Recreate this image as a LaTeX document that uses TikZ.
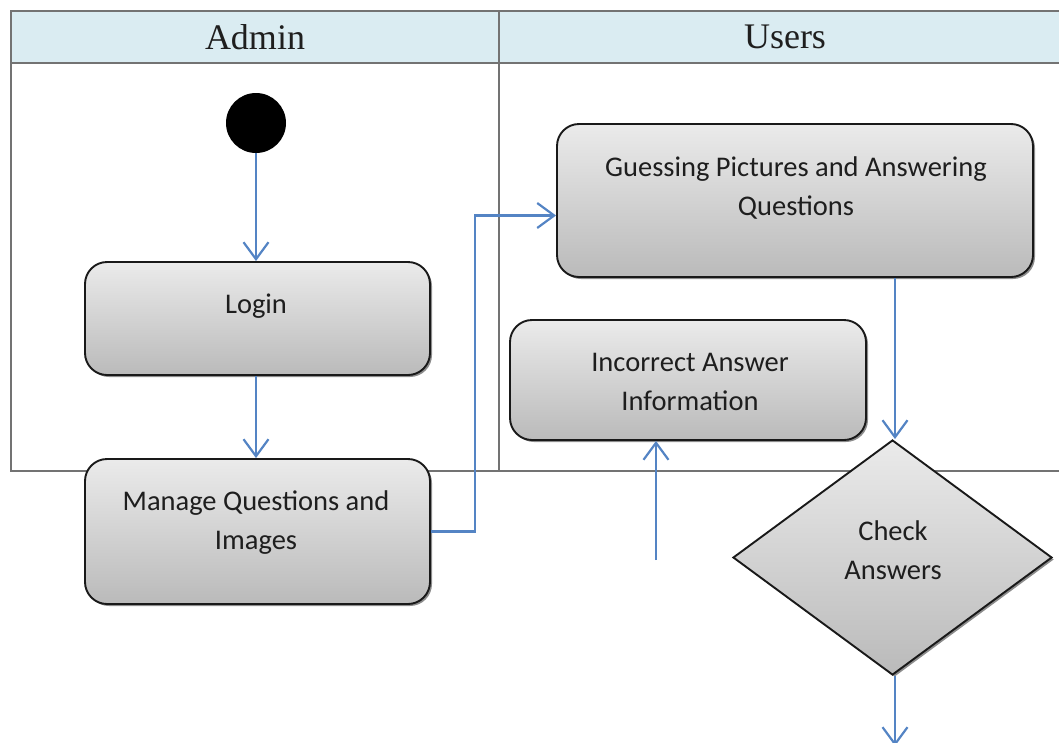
\documentclass[tikz,border=0pt]{standalone}
\usepackage{fontspec}
\setmainfont{Liberation Serif}
\newfontfamily\boxfont{Carlito}
\usetikzlibrary{arrows.meta,shapes.geometric,shadows}

\definecolor{laneblue}{RGB}{218,236,242}
\definecolor{laneline}{RGB}{115,115,115}
\definecolor{flowblue}{RGB}{84,132,196}
\definecolor{boxtext}{RGB}{30,30,30}

\tikzset{
  lane/.style={draw=laneline, line width=1.6pt},
  lanetitle/.style={font=\fontsize{36}{40}\selectfont, text=black!88},
  actbox/.style={draw=black!90, line width=1.9pt, rounded corners=22pt,
    top color=black!8, bottom color=black!27,
    drop shadow={shadow xshift=2pt, shadow yshift=-2pt, fill=black, opacity=0.45},
    inner sep=0pt},
  decbox/.style={diamond, draw=black!90, line width=1.9pt,
    top color=black!8, bottom color=black!27,
    drop shadow={shadow xshift=2pt, shadow yshift=-2pt, fill=black, opacity=0.45},
    inner sep=0pt},
  boxlabel/.style={font=\boxfont\fontsize{28.5}{39}\selectfont, text=boxtext, align=center},
  flow/.style={draw=flowblue, line width=2.2pt,
    -{Straight Barb[length=17pt, width=25pt, line width=2.2pt]}}
}

\begin{document}
\begin{tikzpicture}[x=1pt, y=1pt]
\useasboundingbox (0,0) rectangle (1059,-742);

% swimlane frame
\fill[laneblue] (11,-11) rectangle (1062,-63);
\draw[lane] (1062,-11) -- (11,-11) -- (11,-471) -- (1062,-471);
\draw[lane] (11,-63) -- (1062,-63);
\draw[lane] (499,-11) -- (499,-471);
\node[lanetitle] (admin) at (255,-37) {Admin};
\node[lanetitle] (users) at (785,-37) {Users};

% activities
\node[circle, fill=black, minimum size=60pt, inner sep=0pt] (start) at (256,-123) {};

\node[actbox, minimum width=345pt, minimum height=113pt] (login) at (257.5,-318.5) {};
\node[boxlabel] (logintxt) at (256,-306) {Login};

\node[actbox, minimum width=345pt, minimum height=145pt] (manage) at (257.5,-531.5) {};
\node[boxlabel] (managetxt) at (256,-523) {Manage Questions and\\Images};

\node[actbox, minimum width=476pt, minimum height=153pt] (guess) at (795,-200.5) {};
\node[boxlabel] (guesstxt) at (796,-188) {Guessing Pictures and Answering\\Questions};

\node[actbox, minimum width=356pt, minimum height=120pt] (wrong) at (688,-380) {};
\node[boxlabel] (wrongtxt) at (690,-382) {Incorrect Answer\\Information};

\node[decbox, minimum width=319pt, minimum height=235pt] (check) at (892.5,-557.5) {};
\node[boxlabel] (checktxt) at (893,-550) {Check\\Answers};

% free ends of the open connectors
\coordinate (wrongin) at (656,-560);
\coordinate (checkout) at (895,-746);

% control flow
\draw[flow] (start) -- (login.north -| start);
\draw[flow] (login.south -| start) -- (manage.north -| start);
\draw[flow] (manage.east) -- (475,-531.5) |- ([yshift=-15pt]guess.west);
\draw[flow] (guess.south -| 895,0) -- (check.north -| 895,0);
\draw[flow] (wrongin) -- (wrongin |- wrong.south);
\draw[flow] (check.south -| 895,0) -- (checkout);
\end{tikzpicture}
\end{document}
